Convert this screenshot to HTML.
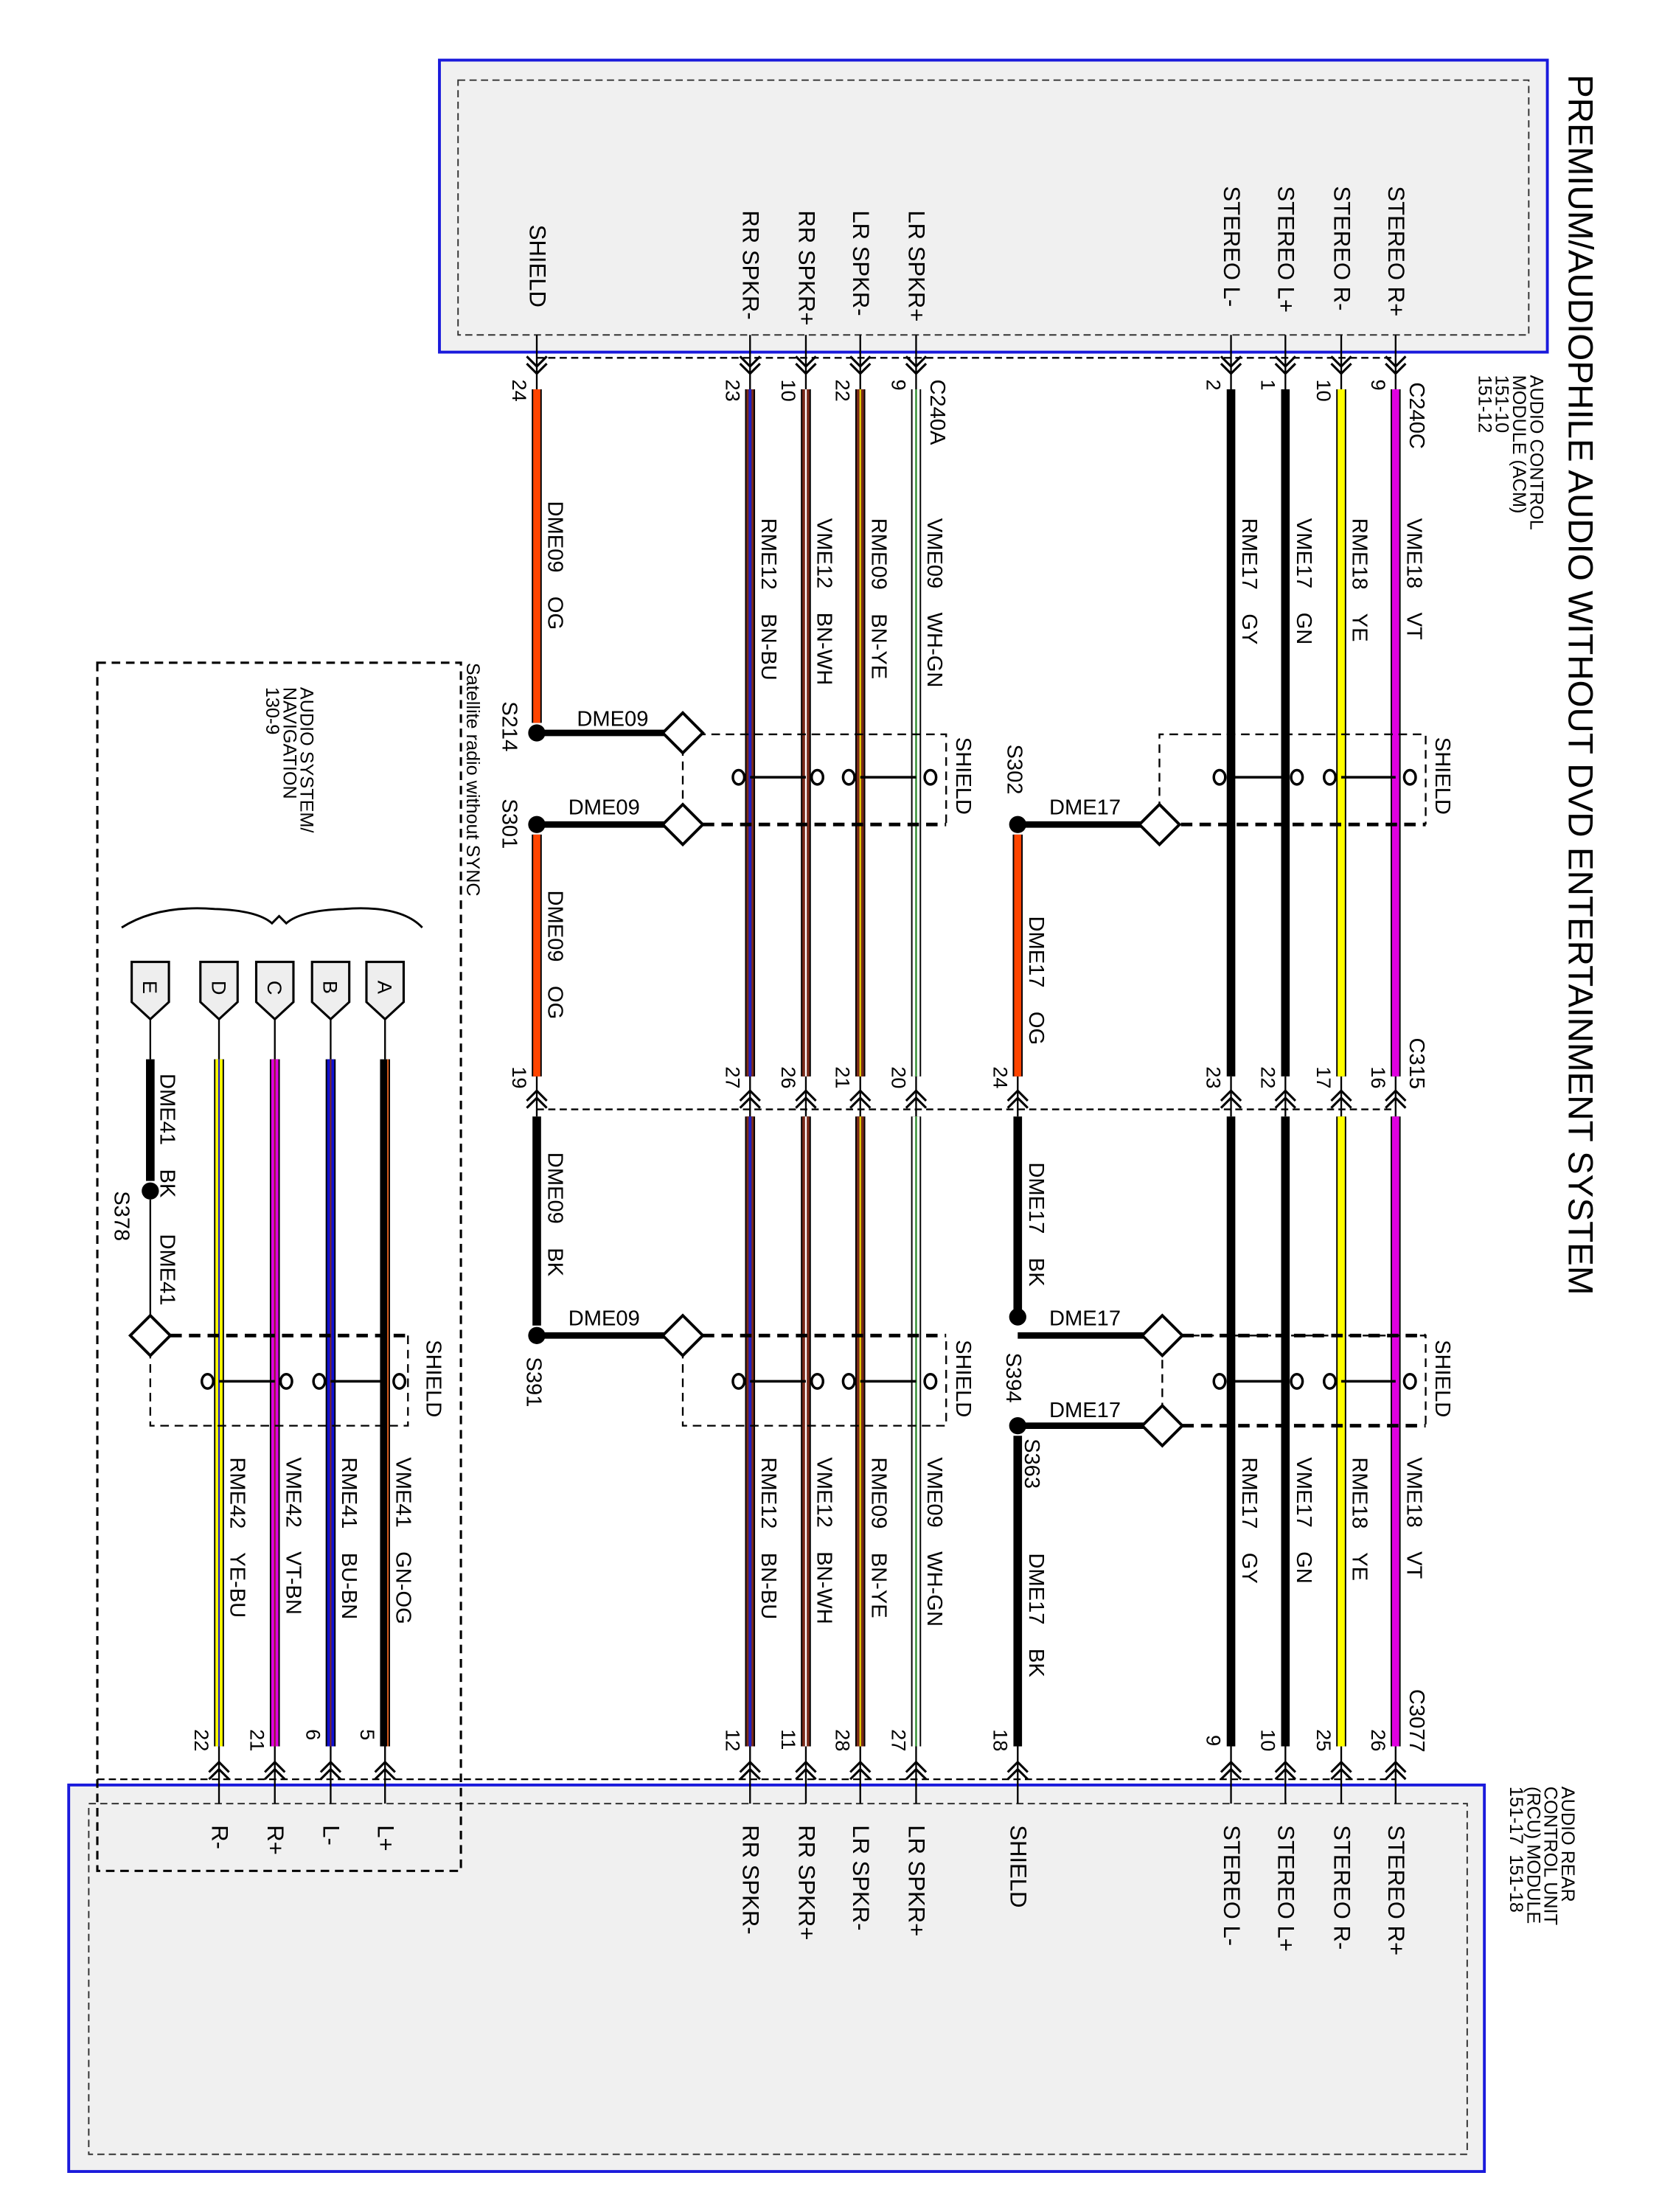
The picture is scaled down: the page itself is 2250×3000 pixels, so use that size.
<!DOCTYPE html>
<html><head><meta charset="utf-8"><style>
html,body{margin:0;padding:0;background:#fff}
svg{display:block}
text{font-family:"Liberation Sans Narrow","Liberation Sans",sans-serif;fill:#000;white-space:pre}
</style></head><body>
<svg width="2250" height="3000" viewBox="0 0 1159 1545.3" preserveAspectRatio="none" xmlns="http://www.w3.org/2000/svg">
<defs>
<g id="dn" fill="none" stroke="#000" stroke-width="1.6"><path d="M-7,-9 L0,-2 L7,-9 M-7,-4 L0,3 L7,-4"/></g>
<g id="up" fill="none" stroke="#000" stroke-width="1.6"><path d="M-7,9 L0,2 L7,9 M-7,4 L0,-3 L7,4"/></g>
<g id="dia" fill="#fff" stroke="#000" stroke-width="2"><path d="M0,-14 L14,0 L0,14 L-14,0 Z"/></g>
</defs>
<rect x="307" y="42" width="774" height="204" fill="#f0f0f0" stroke="#1a1adc" stroke-width="2"/>
<rect x="320" y="56" width="748" height="178" fill="none" stroke="#333" stroke-width="1" stroke-dasharray="5,3"/>
<rect x="48" y="1247" width="989" height="270" fill="#f0f0f0" stroke="#1a1adc" stroke-width="2"/>
<rect x="62" y="1260" width="963" height="245" fill="none" stroke="#333" stroke-width="1" stroke-dasharray="5,3"/>
<rect x="68" y="463" width="254" height="844" fill="none" stroke="#000" stroke-width="1.6" stroke-dasharray="6,4"/>

<text transform="translate(1096,52) rotate(90)" font-size="24.5">PREMIUM/AUDIOPHILE AUDIO WITHOUT DVD ENTERTAINMENT SYSTEM</text>
<g font-size="13">
<text transform="translate(1069,262) rotate(90)">AUDIO CONTROL</text>
<text transform="translate(1057,262) rotate(90)">MODULE (ACM)</text>
<text transform="translate(1045,262) rotate(90)">151-10</text>
<text transform="translate(1033,262) rotate(90)">151-12</text>
<text transform="translate(1091,1248) rotate(90)">AUDIO REAR</text>
<text transform="translate(1079,1248) rotate(90)">CONTROL UNIT</text>
<text transform="translate(1067,1248) rotate(90)">(RCU) MODULE</text>
<text transform="translate(1055,1248) rotate(90)">151-17  151-18</text>
<text transform="translate(326,463) rotate(90)">Satellite radio without SYNC</text>
<text transform="translate(210,480) rotate(90)">AUDIO SYSTEM/</text>
<text transform="translate(198,480) rotate(90)">NAVIGATION</text>
<text transform="translate(186,480) rotate(90)">130-9</text>
</g>

<g font-size="16">
<text transform="translate(970,130) rotate(90)">STEREO R+</text>
<text transform="translate(932,130) rotate(90)">STEREO R-</text>
<text transform="translate(893,130) rotate(90)">STEREO L+</text>
<text transform="translate(855,130) rotate(90)">STEREO L-</text>
<text transform="translate(635,147) rotate(90)">LR SPKR+</text>
<text transform="translate(596,147) rotate(90)">LR SPKR-</text>
<text transform="translate(558,147) rotate(90)">RR SPKR+</text>
<text transform="translate(519,147) rotate(90)">RR SPKR-</text>
<text transform="translate(370,157) rotate(90)">SHIELD</text>
<text transform="translate(970,1275) rotate(90)">STEREO R+</text>
<text transform="translate(932,1275) rotate(90)">STEREO R-</text>
<text transform="translate(893,1275) rotate(90)">STEREO L+</text>
<text transform="translate(855,1275) rotate(90)">STEREO L-</text>
<text transform="translate(706,1275) rotate(90)">SHIELD</text>
<text transform="translate(635,1275) rotate(90)">LR SPKR+</text>
<text transform="translate(596,1275) rotate(90)">LR SPKR-</text>
<text transform="translate(558,1275) rotate(90)">RR SPKR+</text>
<text transform="translate(519,1275) rotate(90)">RR SPKR-</text>
<text transform="translate(264,1275) rotate(90)">L+</text>
<text transform="translate(226,1275) rotate(90)">L-</text>
<text transform="translate(187,1275) rotate(90)">R+</text>
<text transform="translate(148,1275) rotate(90)">R-</text>
</g>

<g stroke="#000" stroke-width="1.2" stroke-dasharray="5,3" fill="none">
<path d="M375,250 H975"/>
<path d="M375,775 H975"/>
<path d="M68,1243 H975"/>
</g>

<g stroke="#000" stroke-width="1.2">
<path d="M975,234 V272 M937,234 V272 M898,234 V272 M860,234 V272 M640,234 V272 M601,234 V272 M563,234 V272 M524,234 V272 M375,234 V272"/>
<path d="M975,752 V780 M937,752 V780 M898,752 V780 M860,752 V780 M640,752 V780 M601,752 V780 M563,752 V780 M524,752 V780 M375,752 V780 M711,752 V780"/>
<path d="M975,1220 V1260 M937,1220 V1260 M898,1220 V1260 M860,1220 V1260 M711,1220 V1260 M640,1220 V1260 M601,1220 V1260 M563,1220 V1260 M524,1220 V1260 M269,1220 V1260 M231,1220 V1260 M192,1220 V1260 M153,1220 V1260"/>
<path d="M269,712 V740 M231,712 V740 M192,712 V740 M153,712 V740 M105,712 V740 M105,838 V933"/>
</g>
<g>
<use href="#dn" x="975" y="258"/><use href="#dn" x="937" y="258"/><use href="#dn" x="898" y="258"/><use href="#dn" x="860" y="258"/>
<use href="#dn" x="640" y="258"/><use href="#dn" x="601" y="258"/><use href="#dn" x="563" y="258"/><use href="#dn" x="524" y="258"/><use href="#dn" x="375" y="258"/>
<use href="#up" x="975" y="765"/><use href="#up" x="937" y="765"/><use href="#up" x="898" y="765"/><use href="#up" x="860" y="765"/>
<use href="#up" x="711" y="765"/><use href="#up" x="640" y="765"/><use href="#up" x="601" y="765"/><use href="#up" x="563" y="765"/><use href="#up" x="524" y="765"/><use href="#up" x="375" y="765"/>
<use href="#up" x="975" y="1234"/><use href="#up" x="937" y="1234"/><use href="#up" x="898" y="1234"/><use href="#up" x="860" y="1234"/>
<use href="#up" x="711" y="1234"/><use href="#up" x="640" y="1234"/><use href="#up" x="601" y="1234"/><use href="#up" x="563" y="1234"/><use href="#up" x="524" y="1234"/>
<use href="#up" x="269" y="1234"/><use href="#up" x="231" y="1234"/><use href="#up" x="192" y="1234"/><use href="#up" x="153" y="1234"/>
</g>

<g fill="none">
<path stroke="#000" stroke-width="7" d="M975,272 V752 M975,780 V1220 M937,272 V752 M937,780 V1220 M640,272 V752 M640,780 V1220 M601,272 V752 M601,780 V1220 M563,272 V752 M563,780 V1220 M524,272 V752 M524,780 V1220 M269,740 V1220 M231,740 V1220 M192,740 V1220 M153,740 V1220"/>
<path stroke="#000" stroke-width="6" d="M898,272 V752 M898,780 V1220 M860,272 V752 M860,780 V1220 M711,780 V915 M711,1003 V1220 M375,780 V926 M105,740 V825"/>
<path stroke="#000" stroke-width="7" d="M375,272 V505 M375,583 V752 M711,583 V752"/>
<path stroke="#ff4500" stroke-width="5" d="M375,272 V505 M375,583 V752 M711,583 V752"/>
<path stroke="#e000e0" stroke-width="5" d="M975,272 V752 M975,780 V1220 M192,740 V1220"/>
<path stroke="#ffff00" stroke-width="5" d="M937,272 V752 M937,780 V1220 M153,740 V1220"/>
<path stroke="#fff" stroke-width="5" d="M640,272 V752 M640,780 V1220"/>
<path stroke="#2a8a2a" stroke-width="1.2" d="M640,272 V752 M640,780 V1220"/>
<path stroke="#7a2a1a" stroke-width="5" d="M601,272 V752 M601,780 V1220 M563,272 V752 M563,780 V1220 M524,272 V752 M524,780 V1220"/>
<path stroke="#e8d000" stroke-width="1.2" d="M601,272 V752 M601,780 V1220"/>
<path stroke="#fff" stroke-width="1.2" d="M563,272 V752 M563,780 V1220"/>
<path stroke="#2020c0" stroke-width="2" d="M524,272 V752 M524,780 V1220"/>
<path stroke="#1010d0" stroke-width="5" d="M231,740 V1220"/>
<path stroke="#7a2a1a" stroke-width="1" d="M231,740 V1220 M192,740 V1220"/>
<path stroke="#1010d0" stroke-width="1" d="M153,740 V1220"/>
<path stroke="#e06020" stroke-width="1" d="M271,740 V1220"/>
</g>

<g fill="none" stroke="#000" stroke-width="1.2" stroke-dasharray="6,4">
<path d="M810,576 V513 H996 V576"/>
<path d="M477,512 V576 M477,513 H661 V576"/>
<path d="M812,996 V933 M812,933 H996 V996"/>
<path d="M477,933 V996 H661 V933"/>
<path d="M105,933 V996 H285 V933"/>
</g>
<g fill="none" stroke="#000" stroke-width="2.5" stroke-dasharray="8,5">
<path d="M825,576 H996"/>
<path d="M491,576 H661"/>
<path d="M826,933 H996"/>
<path d="M491,933 H661"/>
<path d="M119,933 H285"/>
<path d="M826,996 H996"/>
</g>
<g stroke="#000" stroke-width="4.5">
<path d="M375,512 H472 M375,576 H472 M711,576 H806 M375,933 H472 M711,933 H807 M711,996 H807"/>
</g>
<g fill="#000">
<circle cx="375" cy="512" r="6"/><circle cx="375" cy="576" r="6"/><circle cx="711" cy="576" r="6"/>
<circle cx="375" cy="933" r="6"/><circle cx="711" cy="920" r="6"/><circle cx="711" cy="996" r="6"/><circle cx="105" cy="832" r="6"/>
</g>
<use href="#dia" x="477" y="512"/><use href="#dia" x="477" y="576"/><use href="#dia" x="810" y="576"/>
<use href="#dia" x="477" y="933"/><use href="#dia" x="812" y="933"/><use href="#dia" x="812" y="996"/><use href="#dia" x="105" y="933"/>

<g fill="none" stroke="#000" stroke-width="1.8">
<path d="M937,543 H975 M860,543 H898 M601,543 H640 M524,543 H563 M937,965 H975 M860,965 H898 M601,965 H640 M524,965 H563 M231,965 H269 M153,965 H192"/>
<ellipse cx="985" cy="543" rx="4" ry="5"/><ellipse cx="929" cy="543" rx="4" ry="5"/><ellipse cx="906" cy="543" rx="4" ry="5"/><ellipse cx="852" cy="543" rx="4" ry="5"/>
<ellipse cx="650" cy="543" rx="4" ry="5"/><ellipse cx="593" cy="543" rx="4" ry="5"/><ellipse cx="571" cy="543" rx="4" ry="5"/><ellipse cx="516" cy="543" rx="4" ry="5"/>
<ellipse cx="985" cy="965" rx="4" ry="5"/><ellipse cx="929" cy="965" rx="4" ry="5"/><ellipse cx="906" cy="965" rx="4" ry="5"/><ellipse cx="852" cy="965" rx="4" ry="5"/>
<ellipse cx="650" cy="965" rx="4" ry="5"/><ellipse cx="593" cy="965" rx="4" ry="5"/><ellipse cx="571" cy="965" rx="4" ry="5"/><ellipse cx="516" cy="965" rx="4" ry="5"/>
<ellipse cx="279" cy="965" rx="4" ry="5"/><ellipse cx="223" cy="965" rx="4" ry="5"/><ellipse cx="200" cy="965" rx="4" ry="5"/><ellipse cx="145" cy="965" rx="4" ry="5"/>
</g>

<path d="M85,648 Q110,632 150,635 Q180,636 190,645 L195,640 L200,645 Q210,636 240,635 Q280,632 295,648" fill="none" stroke="#000" stroke-width="1.5"/>
<g fill="#eee" stroke="#000" stroke-width="1.6">
<path d="M256,672 H282 V700 L269,712 L256,700 Z"/>
<path d="M218,672 H244 V700 L231,712 L218,700 Z"/>
<path d="M179,672 H205 V700 L192,712 L179,700 Z"/>
<path d="M140,672 H166 V700 L153,712 L140,700 Z"/>
<path d="M92,672 H118 V700 L105,712 L92,700 Z"/>
</g>
<g font-size="14">
<text transform="translate(264,685) rotate(90)">A</text>
<text transform="translate(226,685) rotate(90)">B</text>
<text transform="translate(187,685) rotate(90)">C</text>
<text transform="translate(148,685) rotate(90)">D</text>
<text transform="translate(100,685) rotate(90)">E</text>
</g>

<g font-size="15">
<text transform="translate(983,362) rotate(90)">VME18    VT</text>
<text transform="translate(945,362) rotate(90)">RME18    YE</text>
<text transform="translate(906,362) rotate(90)">VME17    GN</text>
<text transform="translate(868,362) rotate(90)">RME17    GY</text>
<text transform="translate(648,362) rotate(90)">VME09    WH-GN</text>
<text transform="translate(609,362) rotate(90)">RME09    BN-YE</text>
<text transform="translate(571,362) rotate(90)">VME12    BN-WH</text>
<text transform="translate(532,362) rotate(90)">RME12    BN-BU</text>
<text transform="translate(383,350) rotate(90)">DME09    OG</text>
<text transform="translate(383,622) rotate(90)">DME09    OG</text>
<text transform="translate(719,640) rotate(90)">DME17    OG</text>
<text transform="translate(383,805) rotate(90)">DME09    BK</text>
<text transform="translate(719,812) rotate(90)">DME17    BK</text>
<text transform="translate(719,1085) rotate(90)">DME17    BK</text>
<text transform="translate(983,1018) rotate(90)">VME18    VT</text>
<text transform="translate(945,1018) rotate(90)">RME18    YE</text>
<text transform="translate(906,1018) rotate(90)">VME17    GN</text>
<text transform="translate(868,1018) rotate(90)">RME17    GY</text>
<text transform="translate(648,1018) rotate(90)">VME09    WH-GN</text>
<text transform="translate(609,1018) rotate(90)">RME09    BN-YE</text>
<text transform="translate(571,1018) rotate(90)">VME12    BN-WH</text>
<text transform="translate(532,1018) rotate(90)">RME12    BN-BU</text>
<text transform="translate(277,1018) rotate(90)">VME41    GN-OG</text>
<text transform="translate(239,1018) rotate(90)">RME41    BU-BN</text>
<text transform="translate(200,1018) rotate(90)">VME42    VT-BN</text>
<text transform="translate(161,1018) rotate(90)">RME42    YE-BU</text>
<text transform="translate(112,750) rotate(90)">DME41    BK</text>
<text transform="translate(112,862) rotate(90)">DME41</text>
<text transform="translate(80,832) rotate(90)">S378</text>
<text transform="translate(351,490) rotate(90)">S214</text>
<text transform="translate(351,558) rotate(90)">S301</text>
<text transform="translate(704,520) rotate(90)">S302</text>
<text transform="translate(368,948) rotate(90)">S391</text>
<text transform="translate(703,945) rotate(90)">S394</text>
<text transform="translate(716,1005) rotate(90)">S363</text>
<text transform="translate(1003,515) rotate(90)">SHIELD</text>
<text transform="translate(668,515) rotate(90)">SHIELD</text>
<text transform="translate(1003,936) rotate(90)">SHIELD</text>
<text transform="translate(668,936) rotate(90)">SHIELD</text>
<text transform="translate(298,936) rotate(90)">SHIELD</text>
<text transform="translate(985,267) rotate(90)">C240C</text>
<text transform="translate(650,265) rotate(90)">C240A</text>
<text transform="translate(985,725) rotate(90)">C315</text>
<text transform="translate(985,1180) rotate(90)">C3077</text>
</g>
<g font-size="15">
<text x="403" y="507">DME09</text>
<text x="397" y="569">DME09</text>
<text x="733" y="569">DME17</text>
<text x="397" y="926">DME09</text>
<text x="733" y="926">DME17</text>
<text x="733" y="990">DME17</text>
</g>
<g font-size="14">
<text transform="translate(958,265) rotate(90)">9</text>
<text transform="translate(920,265) rotate(90)">10</text>
<text transform="translate(881,265) rotate(90)">1</text>
<text transform="translate(843,265) rotate(90)">2</text>
<text transform="translate(623,265) rotate(90)">9</text>
<text transform="translate(584,265) rotate(90)">22</text>
<text transform="translate(546,265) rotate(90)">10</text>
<text transform="translate(507,265) rotate(90)">23</text>
<text transform="translate(358,265) rotate(90)">24</text>
<text transform="translate(958,745) rotate(90)">16</text>
<text transform="translate(920,745) rotate(90)">17</text>
<text transform="translate(881,745) rotate(90)">22</text>
<text transform="translate(843,745) rotate(90)">23</text>
<text transform="translate(694,745) rotate(90)">24</text>
<text transform="translate(623,745) rotate(90)">20</text>
<text transform="translate(584,745) rotate(90)">21</text>
<text transform="translate(546,745) rotate(90)">26</text>
<text transform="translate(507,745) rotate(90)">27</text>
<text transform="translate(358,745) rotate(90)">19</text>
<text transform="translate(958,1208) rotate(90)">26</text>
<text transform="translate(920,1208) rotate(90)">25</text>
<text transform="translate(881,1208) rotate(90)">10</text>
<text transform="translate(843,1212) rotate(90)">9</text>
<text transform="translate(694,1208) rotate(90)">18</text>
<text transform="translate(623,1208) rotate(90)">27</text>
<text transform="translate(584,1208) rotate(90)">28</text>
<text transform="translate(546,1208) rotate(90)">11</text>
<text transform="translate(507,1208) rotate(90)">12</text>
<text transform="translate(252,1208) rotate(90)">5</text>
<text transform="translate(214,1208) rotate(90)">6</text>
<text transform="translate(175,1208) rotate(90)">21</text>
<text transform="translate(136,1208) rotate(90)">22</text>
</g>
</svg>
</body></html>
